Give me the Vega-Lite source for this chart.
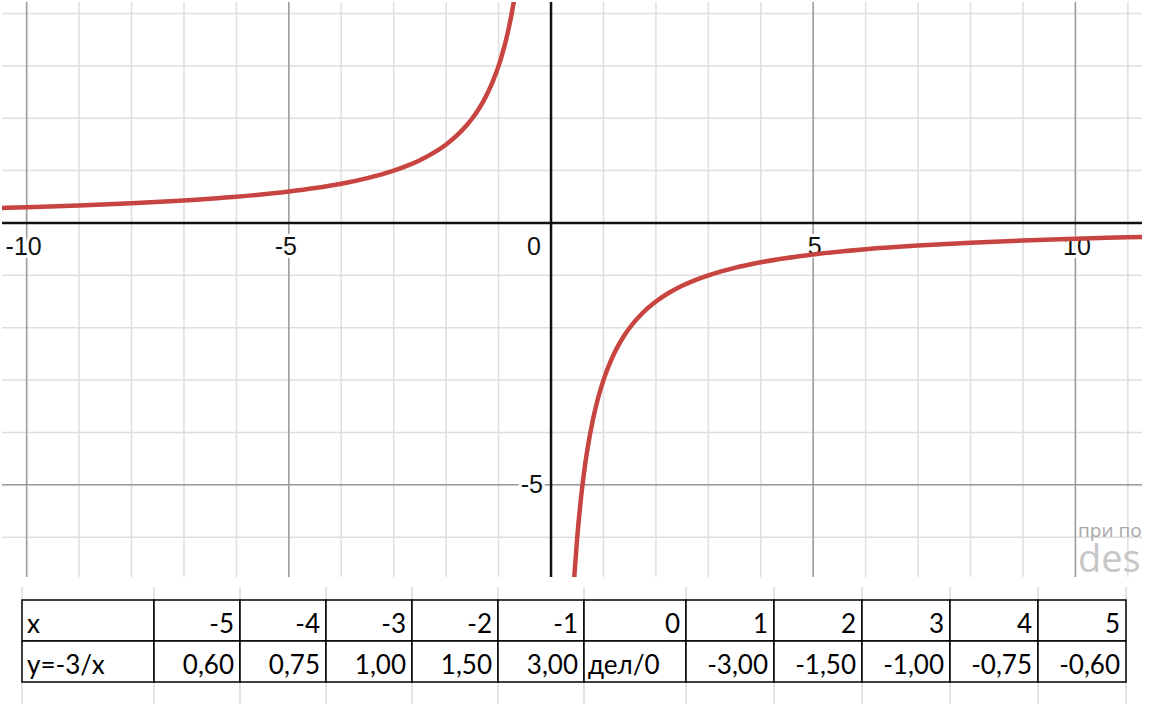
{
  "$schema": "https://vega.github.io/schema/vega-lite/v6.json",
  "background": "white",
  "padding": 0,
  "spacing": 10,
  "bounds": "flush",
  "config": {"view": {"stroke": null}, "concat": {"spacing": 0}},
  "datasets": {
    "ticks": [
      {"v": -10}, {"v": -9}, {"v": -8}, {"v": -7}, {"v": -6}, {"v": -5}, {"v": -4}, {"v": -3}, {"v": -2}, {"v": -1}, {"v": 0},
      {"v": 1}, {"v": 2}, {"v": 3}, {"v": 4}, {"v": 5}, {"v": 6}, {"v": 7}, {"v": 8}, {"v": 9}, {"v": 10}, {"v": 11}
    ],
    "labels": [
      {"axis": "x", "v": -10, "label": "-10"},
      {"axis": "x", "v": -5, "label": "-5"},
      {"axis": "x", "v": 5, "label": "5"},
      {"axis": "x", "v": 10, "label": "10"},
      {"axis": "o", "v": 0, "label": "0"},
      {"axis": "y", "v": -5, "label": "-5"}
    ],
    "watermark": [
      {"kind": "small", "x": 10.05, "y": -6.0, "text": "при поддержке"},
      {"kind": "big", "x": 10.05, "y": -6.67, "text": "desmos"}
    ],
    "curve": [
      {"branch": "left", "x": -10.6, "y": 0.283},
      {"branch": "left", "x": -10, "y": 0.3},
      {"branch": "left", "x": -9, "y": 0.333},
      {"branch": "left", "x": -8, "y": 0.375},
      {"branch": "left", "x": -7, "y": 0.429},
      {"branch": "left", "x": -6, "y": 0.5},
      {"branch": "left", "x": -5, "y": 0.6},
      {"branch": "left", "x": -4.5, "y": 0.667},
      {"branch": "left", "x": -4, "y": 0.75},
      {"branch": "left", "x": -3.5, "y": 0.857},
      {"branch": "left", "x": -3, "y": 1},
      {"branch": "left", "x": -2.75, "y": 1.091},
      {"branch": "left", "x": -2.5, "y": 1.2},
      {"branch": "left", "x": -2.25, "y": 1.333},
      {"branch": "left", "x": -2, "y": 1.5},
      {"branch": "left", "x": -1.8, "y": 1.667},
      {"branch": "left", "x": -1.6, "y": 1.875},
      {"branch": "left", "x": -1.5, "y": 2},
      {"branch": "left", "x": -1.4, "y": 2.143},
      {"branch": "left", "x": -1.3, "y": 2.308},
      {"branch": "left", "x": -1.2, "y": 2.5},
      {"branch": "left", "x": -1.1, "y": 2.727},
      {"branch": "left", "x": -1, "y": 3},
      {"branch": "left", "x": -0.95, "y": 3.158},
      {"branch": "left", "x": -0.9, "y": 3.333},
      {"branch": "left", "x": -0.85, "y": 3.529},
      {"branch": "left", "x": -0.8, "y": 3.75},
      {"branch": "left", "x": -0.75, "y": 4},
      {"branch": "left", "x": -0.7, "y": 4.286},
      {"branch": "left", "x": -0.65, "y": 4.615},
      {"branch": "right", "x": 0.4, "y": -7.5},
      {"branch": "right", "x": 0.45, "y": -6.667},
      {"branch": "right", "x": 0.5, "y": -6},
      {"branch": "right", "x": 0.55, "y": -5.455},
      {"branch": "right", "x": 0.6, "y": -5},
      {"branch": "right", "x": 0.65, "y": -4.615},
      {"branch": "right", "x": 0.7, "y": -4.286},
      {"branch": "right", "x": 0.8, "y": -3.75},
      {"branch": "right", "x": 0.9, "y": -3.333},
      {"branch": "right", "x": 1, "y": -3},
      {"branch": "right", "x": 1.1, "y": -2.727},
      {"branch": "right", "x": 1.2, "y": -2.5},
      {"branch": "right", "x": 1.3, "y": -2.308},
      {"branch": "right", "x": 1.4, "y": -2.143},
      {"branch": "right", "x": 1.5, "y": -2},
      {"branch": "right", "x": 1.75, "y": -1.714},
      {"branch": "right", "x": 2, "y": -1.5},
      {"branch": "right", "x": 2.25, "y": -1.333},
      {"branch": "right", "x": 2.5, "y": -1.2},
      {"branch": "right", "x": 2.75, "y": -1.091},
      {"branch": "right", "x": 3, "y": -1},
      {"branch": "right", "x": 3.5, "y": -0.857},
      {"branch": "right", "x": 4, "y": -0.75},
      {"branch": "right", "x": 4.5, "y": -0.667},
      {"branch": "right", "x": 5, "y": -0.6},
      {"branch": "right", "x": 6, "y": -0.5},
      {"branch": "right", "x": 7, "y": -0.429},
      {"branch": "right", "x": 8, "y": -0.375},
      {"branch": "right", "x": 9, "y": -0.333},
      {"branch": "right", "x": 10, "y": -0.3},
      {"branch": "right", "x": 11, "y": -0.273},
      {"branch": "right", "x": 11.5, "y": -0.261}
    ],
    "cells": [
      {"col": "label", "row": "x", "value": "x"},
      {"col": "label", "row": "y", "value": "y=-3/x"},
      {"col": "-5", "row": "x", "value": "-5"},
      {"col": "-4", "row": "x", "value": "-4"},
      {"col": "-3", "row": "x", "value": "-3"},
      {"col": "-2", "row": "x", "value": "-2"},
      {"col": "-1", "row": "x", "value": "-1"},
      {"col": "0", "row": "x", "value": "0"},
      {"col": "1", "row": "x", "value": "1"},
      {"col": "2", "row": "x", "value": "2"},
      {"col": "3", "row": "x", "value": "3"},
      {"col": "4", "row": "x", "value": "4"},
      {"col": "5", "row": "x", "value": "5"},
      {"col": "-5", "row": "y", "value": "0,60"},
      {"col": "-4", "row": "y", "value": "0,75"},
      {"col": "-3", "row": "y", "value": "1,00"},
      {"col": "-2", "row": "y", "value": "1,50"},
      {"col": "-1", "row": "y", "value": "3,00"},
      {"col": "0", "row": "y", "value": "дел/0"},
      {"col": "1", "row": "y", "value": "-3,00"},
      {"col": "2", "row": "y", "value": "-1,50"},
      {"col": "3", "row": "y", "value": "-1,00"},
      {"col": "4", "row": "y", "value": "-0,75"},
      {"col": "5", "row": "y", "value": "-0,60"}
    ]
  },
  "vconcat": [
    {
      "width": 1140,
      "height": 575,
      "layer": [
        {
          "data": {"name": "ticks"},
          "mark": {"type": "rule", "color": "#dedede", "strokeWidth": 1.5},
          "encoding": {"x": {"field": "v", "type": "quantitative", "scale": {"domain": [-10.47, 11.27], "nice": false, "zero": false}, "axis": null}}
        },
        {
          "data": {"name": "ticks"},
          "transform": [{"filter": "datum.v >= -6 && datum.v <= 4"}],
          "mark": {"type": "rule", "color": "#dedede", "strokeWidth": 1.5},
          "encoding": {"y": {"field": "v", "type": "quantitative", "scale": {"domain": [-6.76, 4.22], "nice": false, "zero": false}, "axis": null}}
        },
        {
          "data": {"name": "ticks"},
          "transform": [{"filter": "datum.v % 5 === 0 && datum.v !== 0"}],
          "mark": {"type": "rule", "color": "#9c9c9c", "strokeWidth": 1.5},
          "encoding": {"x": {"field": "v", "type": "quantitative", "scale": {"domain": [-10.47, 11.27], "nice": false, "zero": false}, "axis": null}}
        },
        {
          "data": {"name": "ticks"},
          "transform": [{"filter": "datum.v === -5"}],
          "mark": {"type": "rule", "color": "#9c9c9c", "strokeWidth": 1.5},
          "encoding": {"y": {"field": "v", "type": "quantitative", "scale": {"domain": [-6.76, 4.22], "nice": false, "zero": false}, "axis": null}}
        },
        {
          "data": {"name": "ticks"},
          "transform": [{"filter": "datum.v === 0"}],
          "mark": {"type": "rule", "color": "#111111", "strokeWidth": 2.5},
          "encoding": {"x": {"field": "v", "type": "quantitative", "scale": {"domain": [-10.47, 11.27], "nice": false, "zero": false}, "axis": null}}
        },
        {
          "data": {"name": "ticks"},
          "transform": [{"filter": "datum.v === 0"}],
          "mark": {"type": "rule", "color": "#111111", "strokeWidth": 2.5},
          "encoding": {"y": {"field": "v", "type": "quantitative", "scale": {"domain": [-6.76, 4.22], "nice": false, "zero": false}, "axis": null}}
        },
        {
          "data": {"name": "labels"},
          "transform": [{"filter": "datum.axis === 'x' && datum.v < 0"}],
          "mark": {"type": "text", "font": "Liberation Sans", "fontSize": 25, "align": "center", "baseline": "alphabetic", "dx": -3, "dy": 32, "stroke": "white", "strokeWidth": 6, "fill": "white", "clip": true},
          "encoding": {
            "x": {"field": "v", "type": "quantitative", "scale": {"domain": [-10.47, 11.27], "nice": false, "zero": false}, "axis": null},
            "y": {"datum": 0, "type": "quantitative", "scale": {"domain": [-6.76, 4.22], "nice": false, "zero": false}, "axis": null},
            "text": {"field": "label"}
          }
        },
        {
          "data": {"name": "labels"},
          "transform": [{"filter": "datum.axis === 'x' && datum.v < 0"}],
          "mark": {"type": "text", "font": "Liberation Sans", "fontSize": 25, "align": "center", "baseline": "alphabetic", "dx": -3, "dy": 32, "fill": "#111111", "clip": true},
          "encoding": {
            "x": {"field": "v", "type": "quantitative", "scale": {"domain": [-10.47, 11.27], "nice": false, "zero": false}, "axis": null},
            "y": {"datum": 0, "type": "quantitative", "scale": {"domain": [-6.76, 4.22], "nice": false, "zero": false}, "axis": null},
            "text": {"field": "label"}
          }
        },
        {
          "data": {"name": "labels"},
          "transform": [{"filter": "datum.axis === 'x' && datum.v > 0"}],
          "mark": {"type": "text", "font": "Liberation Sans", "fontSize": 25, "align": "center", "baseline": "alphabetic", "dx": 1.5, "dy": 32, "stroke": "white", "strokeWidth": 6, "fill": "white", "clip": true},
          "encoding": {
            "x": {"field": "v", "type": "quantitative", "scale": {"domain": [-10.47, 11.27], "nice": false, "zero": false}, "axis": null},
            "y": {"datum": 0, "type": "quantitative", "scale": {"domain": [-6.76, 4.22], "nice": false, "zero": false}, "axis": null},
            "text": {"field": "label"}
          }
        },
        {
          "data": {"name": "labels"},
          "transform": [{"filter": "datum.axis === 'x' && datum.v > 0"}],
          "mark": {"type": "text", "font": "Liberation Sans", "fontSize": 25, "align": "center", "baseline": "alphabetic", "dx": 1.5, "dy": 32, "fill": "#111111", "clip": true},
          "encoding": {
            "x": {"field": "v", "type": "quantitative", "scale": {"domain": [-10.47, 11.27], "nice": false, "zero": false}, "axis": null},
            "y": {"datum": 0, "type": "quantitative", "scale": {"domain": [-6.76, 4.22], "nice": false, "zero": false}, "axis": null},
            "text": {"field": "label"}
          }
        },
        {
          "data": {"name": "labels"},
          "transform": [{"filter": "datum.axis === 'o'"}],
          "mark": {"type": "text", "font": "Liberation Sans", "fontSize": 25, "align": "right", "baseline": "alphabetic", "dx": -10, "dy": 32, "fill": "#111111", "clip": true},
          "encoding": {
            "x": {"field": "v", "type": "quantitative", "scale": {"domain": [-10.47, 11.27], "nice": false, "zero": false}, "axis": null},
            "y": {"datum": 0, "type": "quantitative", "scale": {"domain": [-6.76, 4.22], "nice": false, "zero": false}, "axis": null},
            "text": {"field": "label"}
          }
        },
        {
          "data": {"name": "labels"},
          "transform": [{"filter": "datum.axis === 'y'"}],
          "mark": {"type": "text", "font": "Liberation Sans", "fontSize": 25, "align": "right", "baseline": "middle", "dx": -8, "stroke": "white", "strokeWidth": 6, "fill": "white", "clip": true},
          "encoding": {
            "x": {"datum": 0, "type": "quantitative", "scale": {"domain": [-10.47, 11.27], "nice": false, "zero": false}, "axis": null},
            "y": {"field": "v", "type": "quantitative", "scale": {"domain": [-6.76, 4.22], "nice": false, "zero": false}, "axis": null},
            "text": {"field": "label"}
          }
        },
        {
          "data": {"name": "labels"},
          "transform": [{"filter": "datum.axis === 'y'"}],
          "mark": {"type": "text", "font": "Liberation Sans", "fontSize": 25, "align": "right", "baseline": "middle", "dx": -8, "fill": "#111111", "clip": true},
          "encoding": {
            "x": {"datum": 0, "type": "quantitative", "scale": {"domain": [-10.47, 11.27], "nice": false, "zero": false}, "axis": null},
            "y": {"field": "v", "type": "quantitative", "scale": {"domain": [-6.76, 4.22], "nice": false, "zero": false}, "axis": null},
            "text": {"field": "label"}
          }
        },
        {
          "data": {"name": "watermark"},
          "transform": [{"filter": "datum.kind === 'small'"}],
          "mark": {"type": "text", "font": "Open Sans", "fontSize": 19, "align": "left", "baseline": "alphabetic", "fill": "#a8a8a8", "clip": true},
          "encoding": {
            "x": {"field": "x", "type": "quantitative", "scale": {"domain": [-10.47, 11.27], "nice": false, "zero": false}, "axis": null},
            "y": {"field": "y", "type": "quantitative", "scale": {"domain": [-6.76, 4.22], "nice": false, "zero": false}, "axis": null},
            "text": {"field": "text"}
          }
        },
        {
          "data": {"name": "watermark"},
          "transform": [{"filter": "datum.kind === 'big'"}],
          "mark": {"type": "text", "font": "Open Sans", "fontSize": 38, "align": "left", "baseline": "alphabetic", "fill": "#c6c6c6", "clip": true},
          "encoding": {
            "x": {"field": "x", "type": "quantitative", "scale": {"domain": [-10.47, 11.27], "nice": false, "zero": false}, "axis": null},
            "y": {"field": "y", "type": "quantitative", "scale": {"domain": [-6.76, 4.22], "nice": false, "zero": false}, "axis": null},
            "text": {"field": "text"}
          }
        },
        {
          "data": {"name": "curve"},
          "mark": {"type": "line", "color": "#c74440", "strokeWidth": 4.5, "interpolate": "monotone", "clip": true},
          "encoding": {
            "x": {"field": "x", "type": "quantitative", "scale": {"domain": [-10.47, 11.27], "nice": false, "zero": false}, "axis": null},
            "y": {"field": "y", "type": "quantitative", "scale": {"domain": [-6.76, 4.22], "nice": false, "zero": false}, "axis": null},
            "detail": {"field": "branch"}
          }
        }
      ]
    },
    {
      "spacing": 0,
      "bounds": "flush",
      "hconcat": [
        {
          "width": 152,
          "height": 117,
          "data": {"name": "cells"},
          "transform": [{"filter": {"field": "col", "oneOf": ["label"]}}],
          "layer": [
            {
              "mark": {"type": "rule", "color": "#dcdcdc", "strokeWidth": 1},
              "encoding": {"x": {"field": "col", "type": "nominal", "bandPosition": 0, "scale": {"type": "band", "domain": ["label"], "paddingInner": 0, "paddingOuter": 0.0758, "align": 1}, "axis": null}}
            },
            {
              "mark": {"type": "rule", "color": "#dcdcdc", "strokeWidth": 1},
              "encoding": {"x": {"field": "col", "type": "nominal", "bandPosition": 1, "scale": {"type": "band", "domain": ["label"], "paddingInner": 0, "paddingOuter": 0.0758, "align": 1}, "axis": null}}
            },
            {
              "mark": {"type": "rect", "fill": "white", "stroke": "black", "strokeWidth": 1.5},
              "encoding": {
                "x": {"field": "col", "type": "nominal", "scale": {"type": "band", "domain": ["label"], "paddingInner": 0, "paddingOuter": 0.0758, "align": 1}, "axis": null},
                "y": {"field": "row", "type": "nominal", "scale": {"type": "band", "domain": ["x", "y"], "range": [13, 95], "paddingInner": 0, "paddingOuter": 0}, "axis": null}
              }
            },
            {
              "mark": {"type": "text", "font": "Lato", "fontSize": 26, "align": "left", "baseline": "alphabetic", "dx": 5, "dy": -8.5, "fill": "black"},
              "encoding": {
                "x": {"field": "col", "type": "nominal", "bandPosition": 0, "scale": {"type": "band", "domain": ["label"], "paddingInner": 0, "paddingOuter": 0.0758, "align": 1}, "axis": null},
                "y": {"field": "row", "type": "nominal", "bandPosition": 1, "scale": {"type": "band", "domain": ["x", "y"], "range": [13, 95], "paddingInner": 0, "paddingOuter": 0}, "axis": null},
                "text": {"field": "value"}
              }
            }
          ]
        },
        {
          "width": 430,
          "height": 117,
          "data": {"name": "cells"},
          "transform": [{"filter": {"field": "col", "oneOf": ["-5", "-4", "-3", "-2", "-1"]}}],
          "layer": [
            {
              "mark": {"type": "rule", "color": "#dcdcdc", "strokeWidth": 1},
              "encoding": {"x": {"field": "col", "type": "nominal", "bandPosition": 1, "scale": {"type": "band", "domain": ["-5", "-4", "-3", "-2", "-1"], "paddingInner": 0, "paddingOuter": 0}, "axis": null}}
            },
            {
              "mark": {"type": "rect", "fill": "white", "stroke": "black", "strokeWidth": 1.5},
              "encoding": {
                "x": {"field": "col", "type": "nominal", "scale": {"type": "band", "domain": ["-5", "-4", "-3", "-2", "-1"], "paddingInner": 0, "paddingOuter": 0}, "axis": null},
                "y": {"field": "row", "type": "nominal", "scale": {"type": "band", "domain": ["x", "y"], "range": [13, 95], "paddingInner": 0, "paddingOuter": 0}, "axis": null}
              }
            },
            {
              "mark": {"type": "text", "font": "Lato", "fontSize": 26, "align": "right", "baseline": "alphabetic", "dx": -6, "dy": -8.5, "fill": "black"},
              "encoding": {
                "x": {"field": "col", "type": "nominal", "bandPosition": 1, "scale": {"type": "band", "domain": ["-5", "-4", "-3", "-2", "-1"], "paddingInner": 0, "paddingOuter": 0}, "axis": null},
                "y": {"field": "row", "type": "nominal", "bandPosition": 1, "scale": {"type": "band", "domain": ["x", "y"], "range": [13, 95], "paddingInner": 0, "paddingOuter": 0}, "axis": null},
                "text": {"field": "value"}
              }
            }
          ]
        },
        {
          "width": 102,
          "height": 117,
          "data": {"name": "cells"},
          "transform": [{"filter": {"field": "col", "oneOf": ["0"]}}],
          "layer": [
            {
              "mark": {"type": "rule", "color": "#dcdcdc", "strokeWidth": 1},
              "encoding": {"x": {"field": "col", "type": "nominal", "bandPosition": 1, "scale": {"type": "band", "domain": ["0"], "paddingInner": 0, "paddingOuter": 0}, "axis": null}}
            },
            {
              "mark": {"type": "rect", "fill": "white", "stroke": "black", "strokeWidth": 1.5},
              "encoding": {
                "x": {"field": "col", "type": "nominal", "scale": {"type": "band", "domain": ["0"], "paddingInner": 0, "paddingOuter": 0}, "axis": null},
                "y": {"field": "row", "type": "nominal", "scale": {"type": "band", "domain": ["x", "y"], "range": [13, 95], "paddingInner": 0, "paddingOuter": 0}, "axis": null}
              }
            },
            {
              "transform": [{"filter": "test(/^-?[0-9]/, datum.value)"}],
              "mark": {"type": "text", "font": "Lato", "fontSize": 26, "align": "right", "baseline": "alphabetic", "dx": -6, "dy": -8.5, "fill": "black"},
              "encoding": {
                "x": {"field": "col", "type": "nominal", "bandPosition": 1, "scale": {"type": "band", "domain": ["0"], "paddingInner": 0, "paddingOuter": 0}, "axis": null},
                "y": {"field": "row", "type": "nominal", "bandPosition": 1, "scale": {"type": "band", "domain": ["x", "y"], "range": [13, 95], "paddingInner": 0, "paddingOuter": 0}, "axis": null},
                "text": {"field": "value"}
              }
            },
            {
              "transform": [{"filter": "!test(/^-?[0-9]/, datum.value)"}],
              "mark": {"type": "text", "font": "Lato", "fontSize": 26, "align": "left", "baseline": "alphabetic", "dx": 4, "dy": -8.5, "fill": "black"},
              "encoding": {
                "x": {"field": "col", "type": "nominal", "bandPosition": 0, "scale": {"type": "band", "domain": ["0"], "paddingInner": 0, "paddingOuter": 0}, "axis": null},
                "y": {"field": "row", "type": "nominal", "bandPosition": 1, "scale": {"type": "band", "domain": ["x", "y"], "range": [13, 95], "paddingInner": 0, "paddingOuter": 0}, "axis": null},
                "text": {"field": "value"}
              }
            }
          ]
        },
        {
          "width": 440,
          "height": 117,
          "data": {"name": "cells"},
          "transform": [{"filter": {"field": "col", "oneOf": ["1", "2", "3", "4", "5"]}}],
          "layer": [
            {
              "mark": {"type": "rule", "color": "#dcdcdc", "strokeWidth": 1},
              "encoding": {"x": {"field": "col", "type": "nominal", "bandPosition": 1, "scale": {"type": "band", "domain": ["1", "2", "3", "4", "5"], "paddingInner": 0, "paddingOuter": 0}, "axis": null}}
            },
            {
              "mark": {"type": "rect", "fill": "white", "stroke": "black", "strokeWidth": 1.5},
              "encoding": {
                "x": {"field": "col", "type": "nominal", "scale": {"type": "band", "domain": ["1", "2", "3", "4", "5"], "paddingInner": 0, "paddingOuter": 0}, "axis": null},
                "y": {"field": "row", "type": "nominal", "scale": {"type": "band", "domain": ["x", "y"], "range": [13, 95], "paddingInner": 0, "paddingOuter": 0}, "axis": null}
              }
            },
            {
              "mark": {"type": "text", "font": "Lato", "fontSize": 26, "align": "right", "baseline": "alphabetic", "dx": -6, "dy": -8.5, "fill": "black"},
              "encoding": {
                "x": {"field": "col", "type": "nominal", "bandPosition": 1, "scale": {"type": "band", "domain": ["1", "2", "3", "4", "5"], "paddingInner": 0, "paddingOuter": 0}, "axis": null},
                "y": {"field": "row", "type": "nominal", "bandPosition": 1, "scale": {"type": "band", "domain": ["x", "y"], "range": [13, 95], "paddingInner": 0, "paddingOuter": 0}, "axis": null},
                "text": {"field": "value"}
              }
            }
          ]
        }
      ]
    }
  ]
}
